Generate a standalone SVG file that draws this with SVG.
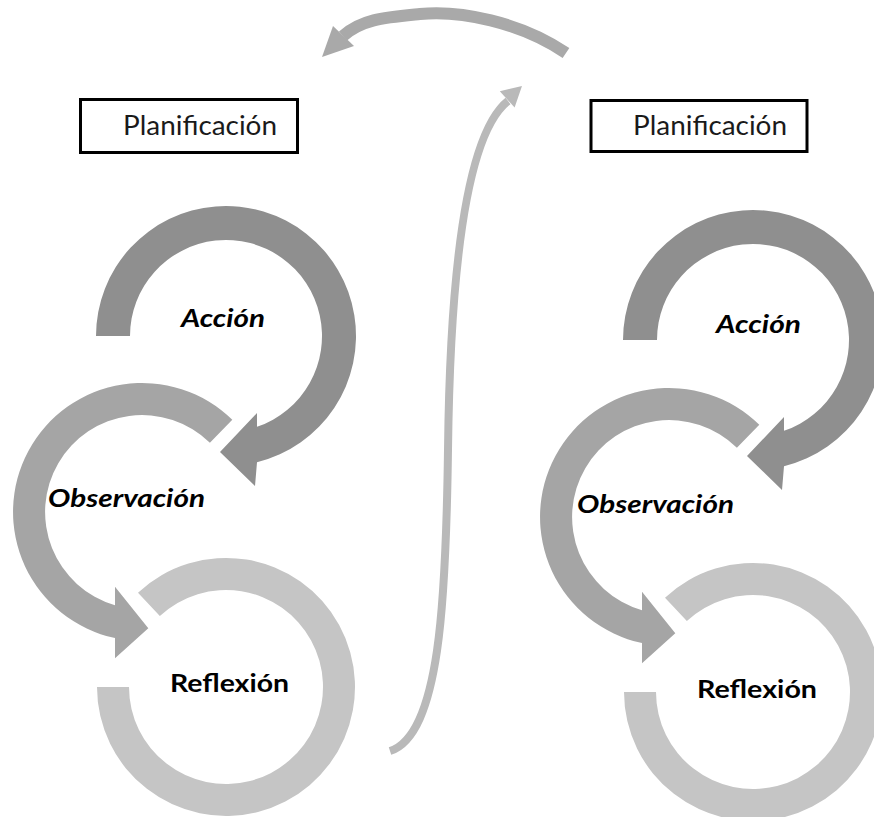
<svg xmlns="http://www.w3.org/2000/svg" width="874" height="817" viewBox="0 0 874 817">
  <style>
    .box { fill: #ffffff; stroke: #000000; stroke-width: 3; }
    .plan { font-family: Lato, "Liberation Sans", sans-serif; font-size: 26px; fill: #1a1a1a; }
    .lbl { font-family: Lato, "Liberation Sans", sans-serif; font-size: 24px; font-weight: bold; fill: #000000; }
    .it { font-style: italic; }
    .acc { fill: #8f8f8f; }
    .obs { fill: #a5a5a5; }
    .ref { fill: #c5c5c5; }
    .conn { fill: none; stroke-linecap: butt; }
  </style>
  <defs>
    <path id="accShape" d="M 96 336 A 130 130 0 1 1 257 462.25 L 255 486 L 220 452 L 257 413 L 257 426.86 A 96 96 0 1 0 130 336 Z"/>
    <path id="obsShape" d="M 232.3 419.8 A 129 129 0 1 0 115 638.1 L 115 658.3 L 148.3 628.3 L 115 586.7 L 115 605.2 A 97 97 0 1 1 209.9 442.7 Z"/>
    <path id="refShape" d="M 97 687 A 129 129 0 1 0 138 592.65 L 159.85 616.05 A 97 97 0 1 1 129 687 Z"/>
  </defs>
  <rect width="874" height="817" fill="#ffffff"/>

  <g id="connectors">
    <g id="arrow-top">
      <path class="conn" d="M 566 53 C 520 22 460 10 420 14 C 385 17.5 362 19 343 36" stroke="#a9a9a9" stroke-width="12"/>
      <polygon points="322,57 333,26 354,46" fill="#a9a9a9"/>
    </g>
    <g id="arrow-middle">
      <path class="conn" d="M 390 751 C 440 735 446 600 448 450 C 450 280 465 135 508 101" stroke="#b9b9b9" stroke-width="8"/>
      <polygon points="522,86 514.6,107.5 499.8,91.3" fill="#b9b9b9"/>
    </g>
  </g>

  <g id="planificacion-1">
    <rect class="box" x="80.5" y="99.5" width="217" height="53"/>
    <text class="plan" x="123" y="135" textLength="154" lengthAdjust="spacingAndGlyphs">Planificación</text>
  </g>
  <g id="planificacion-2">
    <rect class="box" x="591" y="100.5" width="216" height="51"/>
    <text class="plan" x="633" y="135" textLength="154" lengthAdjust="spacingAndGlyphs">Planificación</text>
  </g>

  <g id="reflexion-1">
    <use href="#refShape" class="ref"/>
    <text class="lbl" x="170" y="692" textLength="119" lengthAdjust="spacingAndGlyphs">Reflexión</text>
  </g>
  <g id="observacion-1">
    <use href="#obsShape" class="obs"/>
    <text class="lbl it" x="48" y="507" textLength="157" lengthAdjust="spacingAndGlyphs">Observación</text>
  </g>
  <g id="accion-1">
    <use href="#accShape" class="acc"/>
    <text class="lbl it" x="181" y="327" textLength="84" lengthAdjust="spacingAndGlyphs">Acción</text>
  </g>

  <g id="reflexion-2">
    <use href="#refShape" class="ref" transform="translate(527,5)"/>
    <text class="lbl" x="697" y="698" textLength="120" lengthAdjust="spacingAndGlyphs">Reflexión</text>
  </g>
  <g id="observacion-2">
    <use href="#obsShape" class="obs" transform="translate(527,5)"/>
    <text class="lbl it" x="577" y="513" textLength="157" lengthAdjust="spacingAndGlyphs">Observación</text>
  </g>
  <g id="accion-2">
    <use href="#accShape" class="acc" transform="translate(527,4)"/>
    <text class="lbl it" x="716" y="333" textLength="85" lengthAdjust="spacingAndGlyphs">Acción</text>
  </g>
</svg>
